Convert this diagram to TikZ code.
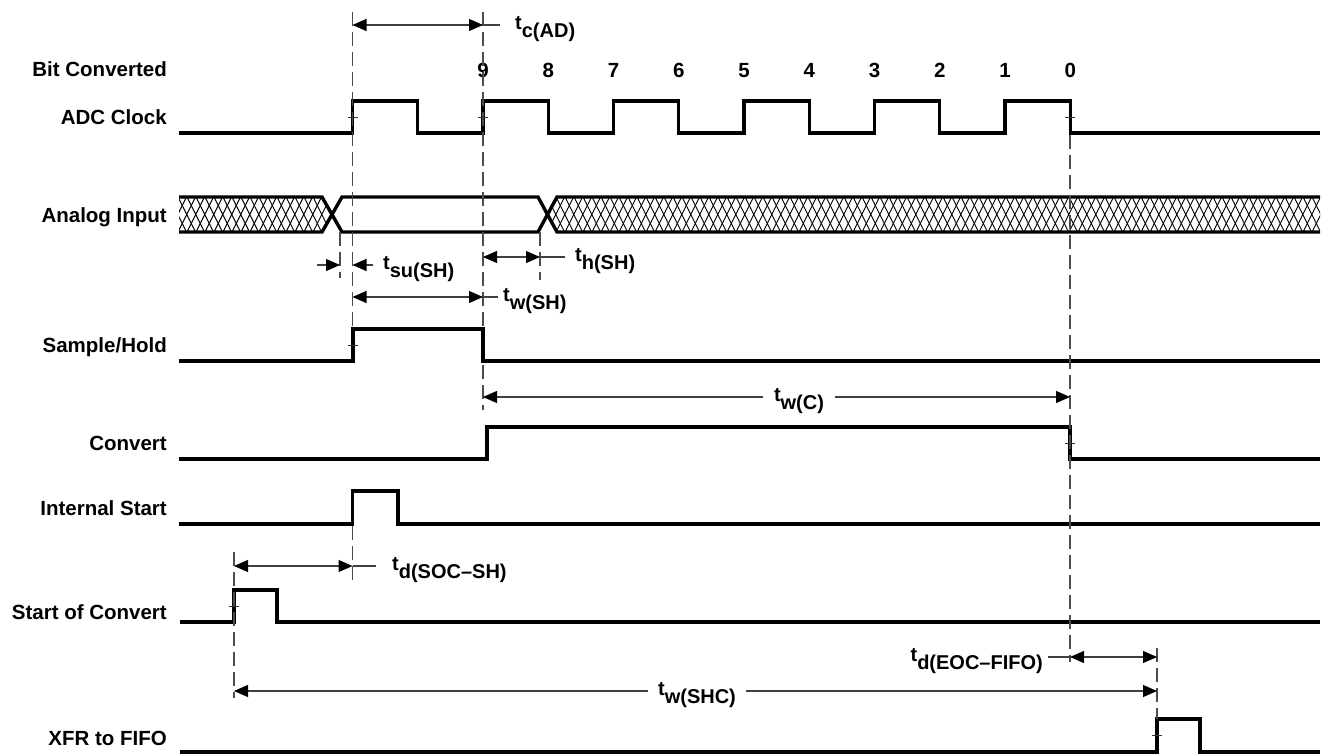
\documentclass[tikz,border=0pt]{standalone}
\usepackage{fontspec}
\setmainfont{Liberation Sans}
\usetikzlibrary{arrows.meta, positioning, calc}
\tikzset{
  sig/.style      = {line width=3.4pt, line join=miter},
  guide/.style    = {line width=1.1pt, black!70, dash pattern=on 14pt off 6pt},
  dim/.style      = {line width=1.1pt, black!75},
  dimboth/.style  = {dim, {Triangle[length=14pt,width=12pt,black]}-{Triangle[length=14pt,width=12pt,black]}},
  dimto/.style    = {dim, -{Triangle[length=14pt,width=12pt,black]}},
  siglabel/.style = {anchor=base east, inner sep=0pt, font=\fontsize{20.5}{24}\selectfont\bfseries},
  bitno/.style    = {anchor=base, inner sep=0pt, font=\fontsize{20.5}{24}\selectfont\bfseries},
  tlab/.style     = {inner sep=0pt, font=\fontsize{20}{24}\selectfont\bfseries},
  tick/.style     = {line width=0.8pt, black!80},
  hatch/.style    = {line width=0.9pt},
}
\newcommand{\tsym}[1]{t\raisebox{-8pt}{#1}}

\begin{document}
\begin{tikzpicture}[x=1pt, y=-1pt]
  \useasboundingbox (0,0) rectangle (1323,754);

  \coordinate (soc)  at (234,0);
  \coordinate (su)   at (340,0);
  \coordinate (sh)   at (352.5,0);
  \coordinate (hold) at (483,0);
  \coordinate (th)   at (540,0);
  \coordinate (eoc)  at (1070,0);
  \coordinate (xfr)  at (1157,0);

  \node[siglabel] (bitlbl) at (167,77)  {Bit Converted};
  \node[siglabel] (clklbl) at (167,125) {ADC Clock};
  \node[siglabel] (ailbl)  at (167,223) {Analog Input};
  \node[siglabel] (shlbl)  at (167,352) {Sample/Hold};
  \node[siglabel] (cvlbl)  at (167,450) {Convert};
  \node[siglabel] (islbl)  at (167,515) {Internal Start};
  \node[siglabel] (soclbl) at (167,619) {Start of Convert};
  \node[siglabel] (xfrlbl) at (167,745) {XFR to FIFO};

  \foreach \b in {9,...,0}
    \node[bitno] (bit\b) at ({483+65.25*(9-\b)},78) {\b};

  \draw[sig] (179,133) foreach \k in {0,...,5} {
      -- ({352.5+130.5*\k},133) -- ++(0,-32) -- ++(65.25,0) -- ++(0,32) } -- (1320,133);

  \begin{scope}
    \clip (179,197) -- (322,197) -- (332,214.5) -- (322,232) -- (179,232) -- cycle
          (1320,197) -- (557,197) -- (547,214.5) -- (557,232) -- (1320,232) -- cycle;
    \foreach \x in {160,169,...,1330}
      \draw[hatch] (\x,197) -- ++(17.5,35) (\x,232) -- ++(17.5,-35);
  \end{scope}
  \draw[sig] (179,197) -- (322,197) -- (342,232) -- (538,232) -- (557,197) -- (1320,197);
  \draw[sig] (179,232) -- (322,232) -- (342,197) -- (538,197) -- (557,232) -- (1320,232);

  \draw[sig] (179,361) -- (353,361) -- (353,329) -- (483,329) -- (483,361) -- (1320,361);
  \draw[sig] (179,459) -- (487,459) -- (487,427) -- (1070,427) -- (1070,459) -- (1320,459);
  \draw[sig] (179,524) -- (352.5,524) -- (352.5,491) -- (398,491) -- (398,524) -- (1320,524);
  \draw[sig] (180,622) -- (234,622) -- (234,590) -- (277,590) -- (277,622) -- (1320,622);
  \draw[sig] (180,752) -- (1157,752) -- (1157,719) -- (1200,719) -- (1200,752) -- (1320,752);

  \draw[guide] (sh |- 0,12) -- (sh |- 0,329);
  \draw[guide] (hold |- 0,12) -- (hold |- 0,329);
  \draw[guide] (hold |- 0,365) -- (hold |- 0,410);
  \draw[guide] (su |- 0,232) -- (su |- 0,278);
  \draw[guide] (th |- 0,232) -- (th |- 0,280);
  \draw[guide] (sh |- 0,526) -- (sh |- 0,580);
  \draw[guide] (soc |- 0,552) -- (soc |- 0,698);
  \draw[guide] (eoc |- 0,135) -- (eoc |- 0,662);
  \draw[guide] (xfr |- 0,648) -- (xfr |- 0,719);

  \foreach \p in {{352.5,117},{483,117},{1070,117},{353,345},{1070,443},{234,606},{1157,735}}
    \draw[tick] (\p) +(-5,0) -- +(5,0);

  \draw[dimboth] (sh |- 0,25) -- (hold |- 0,25);
  \draw[dim] (hold |- 0,25) -- ++(17,0);
  \node[tlab, anchor=west] (tcad) at (515,29) {\tsym{c(AD)}};

  \draw[dimto] (317,265) -- (su |- 0,265);
  \draw[dimto] (373,265) -- (sh |- 0,265);
  \node[tlab, anchor=west] (tsush) at (383,269) {\tsym{su(SH)}};

  \draw[dimboth] (hold |- 0,257) -- (th |- 0,257);
  \draw[dim] (th |- 0,257) -- ++(25,0);
  \node[tlab, anchor=west] (thsh) at (575,261) {\tsym{h(SH)}};

  \draw[dimboth] (sh |- 0,297) -- (hold |- 0,297);
  \draw[dim] (hold |- 0,297) -- ++(15,0);
  \node[tlab, anchor=west] (twsh) at (503,301) {\tsym{w(SH)}};

  \draw[dimboth] (hold |- 0,397) -- (eoc |- 0,397);
  \node[tlab, fill=white, inner xsep=11pt] (twc) at (799,401) {\tsym{w(C)}};

  \draw[dimboth] (soc |- 0,566) -- (sh |- 0,566);
  \draw[dim] (sh |- 0,566) -- ++(23,0);
  \node[tlab, anchor=west] (tdsocsh) at (392,570) {\tsym{d(SOC--SH)}};

  \draw[dimboth] (eoc |- 0,657) -- (xfr |- 0,657);
  \draw[dim] (eoc |- 0,657) -- ++(-22,0);
  \node[tlab, anchor=east] (tdeoc) at (1043,661) {\tsym{d(EOC--FIFO)}};

  \draw[dimboth] (soc |- 0,691) -- (xfr |- 0,691);
  \node[tlab, fill=white, inner xsep=10pt] (twshc) at (697,695) {\tsym{w(SHC)}};
\end{tikzpicture}
\end{document}
